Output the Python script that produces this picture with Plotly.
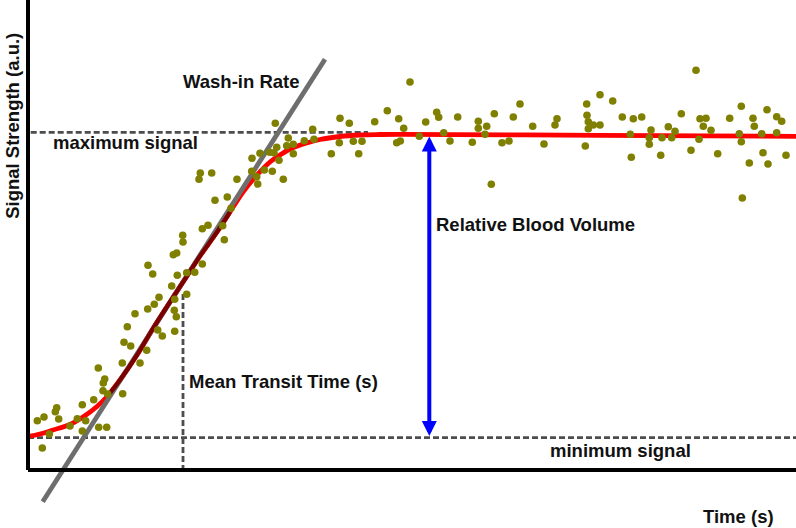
import plotly.graph_objects as go

# ---------------- data (time in a.u. of seconds, signal in a.u.) ----------------
SAMPLE_TIME = [
    12.47, 14.93, 15.87, 14.37, 13.10, 12.63, 11.97, 10.70, 14.67, 15.87,
    14.63, 14.83, 12.97, 13.43, 14.67, 9.93, 9.60, 10.27, 11.87, 9.43,
    11.20, 7.03, 7.67, 7.53, 7.50, 7.97, 9.47, 6.57, 5.43, 2.87,
    2.73, 1.60, 0.93, 3.07, 4.93, 5.77, 4.20, 7.07, 7.87, 5.43,
    2.13, 1.43,
    24.73, 26.03, 25.87, 24.87, 24.60, 24.17, 23.20, 22.40, 25.10, 23.63,
    24.43, 22.37, 22.87, 25.53, 20.90, 22.97, 17.23, 18.37, 17.10, 18.70,
    19.93, 20.30, 18.00, 17.43, 19.47, 15.47, 15.50, 19.63, 14.87, 14.53,
    12.00, 16.67, 17.43,
    38.20, 35.93, 31.20, 32.13, 34.67, 37.07, 40.87, 41.07, 39.77, 37.57,
    28.47, 27.63, 28.60, 26.53, 26.53, 31.13, 32.53, 33.40, 30.33, 33.07,
    36.87, 37.23, 39.13, 41.57, 42.20, 42.97,
    46.63, 49.20, 45.03, 45.03, 45.87, 45.70, 44.43, 47.40, 48.10, 48.53,
    50.47, 51.60, 52.70, 52.90, 46.33, 55.87, 57.20, 58.47, 55.90, 56.03,
    56.03, 56.53, 57.20, 55.73, 59.43,
    60.53, 61.37, 60.23, 60.33, 62.30, 62.13, 62.13, 63.40, 63.27, 64.03,
    64.37, 64.70, 65.33, 66.80, 66.30, 67.10, 67.20, 67.80, 67.53, 68.30,
    68.97, 70.17, 71.33, 71.13, 71.33, 71.43, 72.13, 72.50, 72.63, 73.37,
    73.50, 73.90, 74.00, 74.87, 74.87, 75.37, 75.80,
]
SAMPLE_SIGNAL = [
    19.60, 19.47, 19.73, 18.40, 17.27, 16.57, 16.10, 15.63, 17.07, 17.57,
    15.97, 15.33, 14.00, 13.40, 13.87, 14.33, 12.77, 12.40, 11.97, 10.70,
    10.70, 10.20, 9.10, 8.70, 7.93, 7.60, 7.63, 7.03, 6.53, 6.23,
    5.83, 5.30, 4.93, 5.10, 5.13, 4.93, 4.40, 4.27, 4.27, 3.90,
    3.60, 2.20,
    34.67, 33.20, 32.43, 32.27, 31.73, 31.77, 31.67, 31.17, 30.97, 30.00,
    29.87, 29.87, 29.33, 29.07, 29.07, 28.60, 29.70, 29.70, 29.07, 26.97,
    27.30, 26.17, 24.47, 24.13, 24.43, 23.47, 22.80, 23.03, 21.70, 21.53,
    20.47, 19.77, 20.60,
    38.80, 35.93, 35.17, 34.67, 34.83, 35.13, 35.77, 35.27, 34.80, 34.17,
    34.07, 32.93, 33.07, 32.57, 31.63, 32.73, 32.87, 32.87, 31.63, 31.63,
    32.73, 32.90, 33.37, 33.73, 32.90, 35.30,
    35.63, 36.60, 34.87, 34.17, 34.37, 33.57, 32.77, 32.73, 32.90, 35.30,
    34.37, 32.60, 34.50, 35.13, 28.57, 36.60, 37.53, 36.90, 35.47, 34.83,
    34.13, 34.50, 34.50, 32.40, 35.30,
    35.13, 35.30, 33.57, 31.27, 34.00, 33.23, 32.57, 33.23, 31.47, 34.33,
    33.23, 33.87, 35.63, 39.97, 31.97, 33.07, 35.13, 35.17, 34.37, 33.97,
    31.63, 35.17, 36.37, 33.63, 32.83, 27.20, 30.70, 35.17, 34.37, 33.63,
    31.73, 36.03, 30.60, 35.33, 33.73, 34.87, 31.47,
]

FIT_TIME = [0.0, 1.2, 2.5, 4.2, 5.5, 6.9, 8.0, 9.2, 10.9, 12.5, 14.2, 15.9,
            17.2, 18.9, 20.2, 21.5, 22.9, 24.2, 25.2, 26.2, 27.7, 29.2, 31.2,
            33.2, 35.2, 37.2, 57.2, 76.8]
FIT_SIGNAL = [3.35, 3.6, 4.0, 4.55, 5.3, 6.35, 7.45, 9.0, 11.5, 14.15, 16.8,
              19.4, 21.4, 23.8, 25.8, 27.8, 29.5, 30.8, 31.5, 32.1, 32.65,
              33.05, 33.35, 33.5, 33.55, 33.57, 33.47, 33.37]

WASHIN_TIME = [1.47, 29.7]
WASHIN_SIGNAL = [-3.17, 41.07]

MIN_SIGNAL = 3.23
MAX_SIGNAL = 33.77
MAX_LINE_TIME = [0.27, 34.0]
MIN_LINE_TIME = [0.0, 76.8]
MEAN_TRANSIT_TIME = 15.5
MTT_SIGNAL = [17.6, -0.35]
RBV_TIME = 40.13
RBV_SIGNAL = [33.5, 3.4]
OVERLAP = (8.0, 21.0)

X_RANGE = [-2.8, 76.8]
Y_RANGE = [-5.8, 47.0]

FONT = "Liberation Sans, Arial, sans-serif"
DASH_COLOR = "#4d4d4d"
DASH = dict(color=DASH_COLOR, width=2.8, dash="6px,3px")

fig = go.Figure()

# dashed reference lines
fig.add_trace(go.Scatter(x=MAX_LINE_TIME, y=[MAX_SIGNAL, MAX_SIGNAL], mode="lines", line=DASH))
fig.add_trace(go.Scatter(x=MIN_LINE_TIME, y=[MIN_SIGNAL, MIN_SIGNAL], mode="lines", line=DASH))
fig.add_trace(go.Scatter(x=[MEAN_TRANSIT_TIME, MEAN_TRANSIT_TIME], y=MTT_SIGNAL,
                         mode="lines", line=DASH))

# fitted curve
fig.add_trace(go.Scatter(x=FIT_TIME, y=FIT_SIGNAL, mode="lines",
                         line=dict(color="#ff0000", width=4.8, shape="spline")))
# wash-in tangent
fig.add_trace(go.Scatter(x=WASHIN_TIME, y=WASHIN_SIGNAL, mode="lines",
                         line=dict(color="#6e6e6e", width=4.8), cliponaxis=False))
# overlap of tangent and curve (darkened)
ov_t = [t for t in FIT_TIME if OVERLAP[0] <= t <= OVERLAP[1]]
ov_s = [s for t, s in zip(FIT_TIME, FIT_SIGNAL) if OVERLAP[0] <= t <= OVERLAP[1]]
fig.add_trace(go.Scatter(x=ov_t, y=ov_s, mode="lines",
                         line=dict(color="#7a0000", width=4.2, shape="spline")))

# samples
fig.add_trace(go.Scatter(x=SAMPLE_TIME, y=SAMPLE_SIGNAL, mode="markers",
                         marker=dict(color="#808000", size=7.6, line=dict(width=0))))

# axes lines
fig.add_shape(type="line", xref="x", yref="y", x0=0, x1=0, y0=0, y1=Y_RANGE[1],
              line=dict(color="black", width=4))
fig.add_shape(type="line", xref="x", yref="y", x0=0, x1=X_RANGE[1], y0=0, y1=0,
              line=dict(color="black", width=4))

# relative blood volume arrow
fig.add_annotation(x=RBV_TIME, y=RBV_SIGNAL[1], ax=RBV_TIME, ay=RBV_SIGNAL[0],
                   xref="x", yref="y", axref="x", ayref="y", text="",
                   showarrow=True, arrowhead=2, startarrowhead=2, arrowside="end+start",
                   arrowwidth=4, arrowsize=0.75, startarrowsize=0.75, arrowcolor="#0000ff")

def label(text, x, y, angle=0):
    fig.add_annotation(x=x, y=y, xref="x", yref="y", text=text, showarrow=False,
                       textangle=angle, xanchor="center", yanchor="middle",
                       font=dict(family=FONT, size=18.5, color="#111111", weight="bold"))

label("Wash-in Rate", 21.3, 38.82)
label("maximum signal", 9.7, 32.72)
label("Relative Blood Volume", 50.75, 24.55)
label("Mean Transit Time (s)", 25.5, 8.82)
label("minimum signal", 59.2, 2.0)
label("Time (s)", 71.05, -4.68)
label("Signal Strength (a.u.)", -1.62, 34.4, angle=-90)

fig.update_layout(
    width=796, height=528, margin=dict(l=0, r=0, t=0, b=0),
    paper_bgcolor="white", plot_bgcolor="white", showlegend=False,
    xaxis=dict(range=X_RANGE, visible=False, fixedrange=True),
    yaxis=dict(range=Y_RANGE, visible=False, fixedrange=True),
)

fig.write_html("out.html", config={"displayModeBar": False, "staticPlot": True},
               post_script="document.body.style.margin='0px';document.body.style.overflow='hidden';")
